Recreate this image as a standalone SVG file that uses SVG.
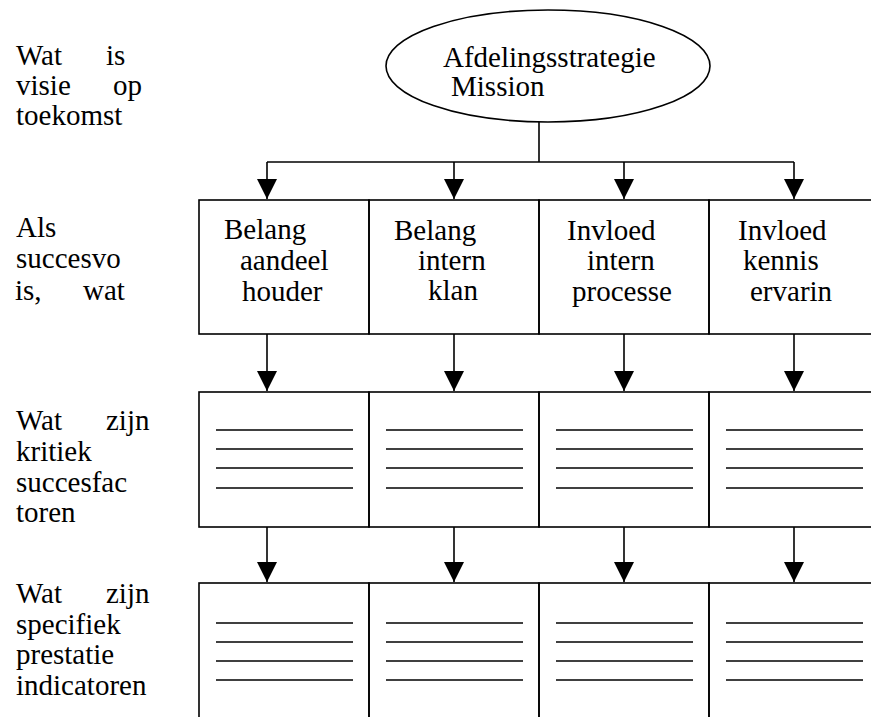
<svg xmlns="http://www.w3.org/2000/svg" width="871" height="717" viewBox="0 0 871 717">
<style>
  text { font-family: "Liberation Serif", "Times New Roman", serif; font-size: 29px; fill: #000; }
  .box { fill: none; stroke: #000; stroke-width: 1.6; }
  .rule { stroke: #000; stroke-width: 1.6; }
  .conn { fill: none; stroke: #000; stroke-width: 1.6; }
</style>
<defs>
  <marker id="arrow" markerUnits="userSpaceOnUse" markerWidth="22" markerHeight="22" viewBox="0 0 22 22" refX="20" refY="11" orient="auto">
    <polygon points="0,1 20,11 0,21" fill="#000"/>
  </marker>
</defs>
<rect width="871" height="717" fill="#fff"/>

<g id="label-visie">
  <text x="16" y="65">Wat</text><text x="106" y="65">is</text>
  <text x="16" y="95">visie</text><text x="113" y="95">op</text>
  <text x="16" y="125">toekomst</text>
</g>
<g id="label-succes">
  <text x="16" y="237">Als</text>
  <text x="16" y="268">succesvo</text>
  <text x="15" y="300">is,</text><text x="83" y="300">wat</text>
</g>
<g id="label-ksf">
  <text x="16" y="430">Wat</text><text x="106" y="430">zijn</text>
  <text x="16" y="461">kritiek</text>
  <text x="16" y="492">succesfac</text>
  <text x="16" y="522">toren</text>
</g>
<g id="label-kpi">
  <text x="16" y="603">Wat</text><text x="106" y="603">zijn</text>
  <text x="16" y="634">specifiek</text>
  <text x="16" y="664">prestatie</text>
  <text x="16" y="695">indicatoren</text>
</g>

<g id="strategie">
  <ellipse cx="548" cy="66" rx="162" ry="56" class="box"/>
  <text x="443" y="67">Afdelingsstrategie</text>
  <text x="451" y="96">Mission</text>
</g>

<g id="belang-aandeelhouder">
  <rect x="199" y="200" width="170" height="134" class="box"/>
  <text x="224" y="239">Belang</text>
  <text x="240" y="270">aandeel</text>
  <text x="242" y="301">houder</text>
</g>
<g id="belang-interne-klant">
  <rect x="369" y="200" width="170" height="134" class="box"/>
  <text x="394" y="240">Belang</text>
  <text x="418" y="270">intern</text>
  <text x="428" y="300">klan</text>
</g>
<g id="invloed-interne-processen">
  <rect x="539" y="200" width="170" height="134" class="box"/>
  <text x="567" y="240">Invloed</text>
  <text x="587" y="270">intern</text>
  <text x="572" y="301">processe</text>
</g>
<g id="invloed-kennis-ervaring">
  <rect x="709" y="200" width="180" height="134" class="box"/>
  <text x="738" y="240">Invloed</text>
  <text x="743" y="270">kennis</text>
  <text x="750" y="301">ervarin</text>
</g>

<g id="ksf-1">
  <rect x="199" y="392" width="170" height="135" class="box"/>
  <line x1="216" y1="430" x2="353" y2="430" class="rule"/>
  <line x1="216" y1="449" x2="353" y2="449" class="rule"/>
  <line x1="216" y1="468" x2="353" y2="468" class="rule"/>
  <line x1="216" y1="488" x2="353" y2="488" class="rule"/>
</g>
<g id="ksf-2">
  <rect x="369" y="392" width="170" height="135" class="box"/>
  <line x1="386" y1="430" x2="523" y2="430" class="rule"/>
  <line x1="386" y1="449" x2="523" y2="449" class="rule"/>
  <line x1="386" y1="468" x2="523" y2="468" class="rule"/>
  <line x1="386" y1="488" x2="523" y2="488" class="rule"/>
</g>
<g id="ksf-3">
  <rect x="539" y="392" width="170" height="135" class="box"/>
  <line x1="556" y1="430" x2="693" y2="430" class="rule"/>
  <line x1="556" y1="449" x2="693" y2="449" class="rule"/>
  <line x1="556" y1="468" x2="693" y2="468" class="rule"/>
  <line x1="556" y1="488" x2="693" y2="488" class="rule"/>
</g>
<g id="ksf-4">
  <rect x="709" y="392" width="180" height="135" class="box"/>
  <line x1="726" y1="430" x2="863" y2="430" class="rule"/>
  <line x1="726" y1="449" x2="863" y2="449" class="rule"/>
  <line x1="726" y1="468" x2="863" y2="468" class="rule"/>
  <line x1="726" y1="488" x2="863" y2="488" class="rule"/>
</g>

<g id="kpi-1">
  <rect x="199" y="583" width="170" height="160" class="box"/>
  <line x1="216" y1="623" x2="353" y2="623" class="rule"/>
  <line x1="216" y1="642" x2="353" y2="642" class="rule"/>
  <line x1="216" y1="661" x2="353" y2="661" class="rule"/>
  <line x1="216" y1="680" x2="353" y2="680" class="rule"/>
</g>
<g id="kpi-2">
  <rect x="369" y="583" width="170" height="160" class="box"/>
  <line x1="386" y1="623" x2="523" y2="623" class="rule"/>
  <line x1="386" y1="642" x2="523" y2="642" class="rule"/>
  <line x1="386" y1="661" x2="523" y2="661" class="rule"/>
  <line x1="386" y1="680" x2="523" y2="680" class="rule"/>
</g>
<g id="kpi-3">
  <rect x="539" y="583" width="170" height="160" class="box"/>
  <line x1="556" y1="623" x2="693" y2="623" class="rule"/>
  <line x1="556" y1="642" x2="693" y2="642" class="rule"/>
  <line x1="556" y1="661" x2="693" y2="661" class="rule"/>
  <line x1="556" y1="680" x2="693" y2="680" class="rule"/>
</g>
<g id="kpi-4">
  <rect x="709" y="583" width="180" height="160" class="box"/>
  <line x1="726" y1="623" x2="863" y2="623" class="rule"/>
  <line x1="726" y1="642" x2="863" y2="642" class="rule"/>
  <line x1="726" y1="661" x2="863" y2="661" class="rule"/>
  <line x1="726" y1="680" x2="863" y2="680" class="rule"/>
</g>

<g id="connectors">
  <line x1="539" y1="122" x2="539" y2="162" class="conn"/>
  <line x1="267" y1="162" x2="794" y2="162" class="conn"/>
  <line x1="267" y1="162" x2="267" y2="199" class="conn" marker-end="url(#arrow)"/>
  <line x1="454" y1="162" x2="454" y2="199" class="conn" marker-end="url(#arrow)"/>
  <line x1="624" y1="162" x2="624" y2="199" class="conn" marker-end="url(#arrow)"/>
  <line x1="794" y1="162" x2="794" y2="199" class="conn" marker-end="url(#arrow)"/>
  <line x1="267" y1="334" x2="267" y2="391" class="conn" marker-end="url(#arrow)"/>
  <line x1="454" y1="334" x2="454" y2="391" class="conn" marker-end="url(#arrow)"/>
  <line x1="624" y1="334" x2="624" y2="391" class="conn" marker-end="url(#arrow)"/>
  <line x1="794" y1="334" x2="794" y2="391" class="conn" marker-end="url(#arrow)"/>
  <line x1="267" y1="527" x2="267" y2="582" class="conn" marker-end="url(#arrow)"/>
  <line x1="454" y1="527" x2="454" y2="582" class="conn" marker-end="url(#arrow)"/>
  <line x1="624" y1="527" x2="624" y2="582" class="conn" marker-end="url(#arrow)"/>
  <line x1="794" y1="527" x2="794" y2="582" class="conn" marker-end="url(#arrow)"/>
</g>
</svg>
